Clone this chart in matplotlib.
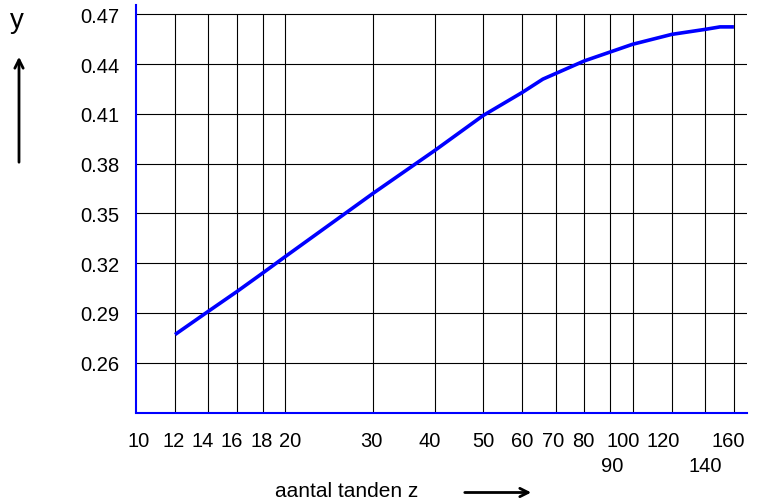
import matplotlib
matplotlib.use("Agg")
import matplotlib.pyplot as plt
from matplotlib.patches import FancyArrowPatch
from matplotlib.transforms import blended_transform_factory

plt.rcParams['font.family'] = ['Liberation Sans', 'DejaVu Sans']

# tooth count z and form factor y
z_values = [12, 14, 16, 18, 20, 30, 40, 50, 60, 66, 80, 100, 120, 140, 150, 160]
y_values = [0.277, 0.291, 0.303, 0.314, 0.324, 0.362, 0.388, 0.409, 0.423,
            0.431, 0.442, 0.452, 0.458, 0.461, 0.4625, 0.4625]

x_grid = [12, 14, 16, 18, 20, 30, 40, 50, 60, 70, 80, 90, 100, 120, 140, 160]
x_labels_row1 = [10, 12, 14, 16, 18, 20, 30, 40, 50, 60, 70, 80, 100, 120, 160]
x_labels_row2 = [90, 140]
y_ticks = [0.26, 0.29, 0.32, 0.35, 0.38, 0.41, 0.44, 0.47]

# small horizontal nudges (pixels) of the hand-set x labels
row1_nudge = [3, -1, -5.5, -5.5, -1, 4.5, -1, -5, 0, 0, -2, -1.5, -9.5, -8.5, -6]
row2_nudge = [2.5, 0]

W, H = 757, 502
fig = plt.figure(figsize=(W / 100, H / 100), dpi=100)
ax = fig.add_axes([135.7 / W, 1 - 413.5 / H, (747 - 135.7) / W, (413.5 - 6) / H])

ymin, ymax = 0.23, 0.4757
xmin, xmax = 10, 170
ax.set_xscale('log')
ax.set_xlim(xmin, xmax)
ax.set_ylim(ymin, ymax)

# grid
ax.vlines(x_grid, ymin, 0.47, colors='black', lw=0.8, zorder=1)
ax.hlines(y_ticks, xmin, xmax, colors='black', lw=0.8, zorder=1)

ax.plot(z_values, y_values, color='#0000ff', lw=2.6, zorder=3,
        solid_capstyle='butt')

for s in ['top', 'right']:
    ax.spines[s].set_visible(False)
for s in ['left', 'bottom']:
    ax.spines[s].set_color('#0000ff')
    ax.spines[s].set_linewidth(1.5)
    ax.spines[s].set_zorder(4)

ax.minorticks_off()
ax.set_xticks([])
ax.set_yticks(y_ticks)
ax.set_yticklabels([f"{v:.2f}" for v in y_ticks])
ax.tick_params(axis='both', length=0, labelsize=14.5)
ax.tick_params(axis='y', pad=11.5)

trans = blended_transform_factory(ax.transData, ax.transAxes)
for v, dx in zip(x_labels_row1, row1_nudge):
    ax.annotate(str(v), xy=(v, 0), xycoords=trans, xytext=(dx, -18.5),
                textcoords='offset pixels', ha='center', va='top',
                fontsize=14.5, annotation_clip=False)
for v, dx in zip(x_labels_row2, row2_nudge):
    ax.annotate(str(v), xy=(v, 0), xycoords=trans, xytext=(dx, -43.5),
                textcoords='offset pixels', ha='center', va='top',
                fontsize=14.5, annotation_clip=False)

# axis captions and arrows
fig.text(347 / W, 1 - 482.5 / H, 'aantal tanden z', ha='center', va='top',
         fontsize=15)
fig.add_artist(FancyArrowPatch(
    (462 / W, 1 - 493.5 / H), (534 / W, 1 - 493.5 / H), transform=fig.transFigure,
    arrowstyle='->,head_length=6,head_width=3', lw=2, color='black',
    mutation_scale=1))

fig.text(16.5 / W, 1 - 21 / H, 'y', ha='center', va='center', fontsize=20)
fig.add_artist(FancyArrowPatch(
    (19 / W, 1 - 166 / H), (19 / W, 1 - 55 / H), transform=fig.transFigure,
    arrowstyle='->,head_length=6,head_width=3', lw=2, color='black',
    mutation_scale=1))

fig.savefig('out.png', dpi=100)
